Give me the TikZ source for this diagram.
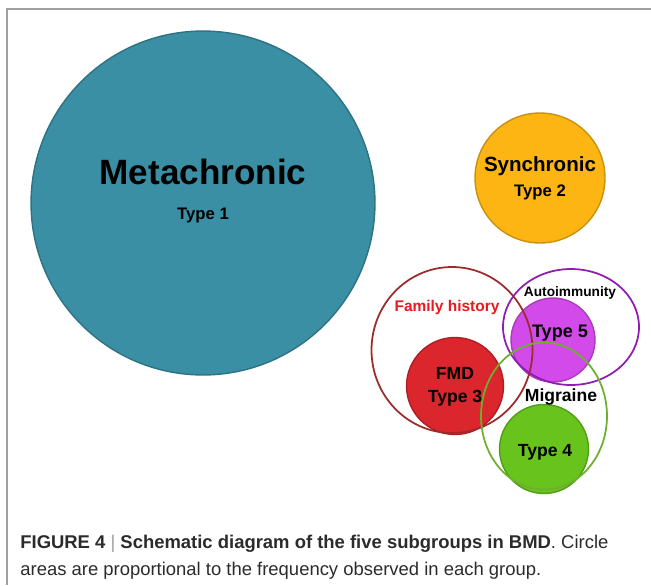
\documentclass[tikz,border=0pt]{standalone}
\usepackage{fontspec}
\setmainfont{Liberation Sans}
\usetikzlibrary{shapes.geometric}
\definecolor{metateal}{HTML}{3A8FA4}
\definecolor{syncgold}{HTML}{FDB513}
\definecolor{fmdred}{HTML}{DA262C}
\definecolor{famred}{HTML}{9C2B2B}
\definecolor{autopurple}{HTML}{8E1DB0}
\definecolor{typefive}{HTML}{D24BEA}
\definecolor{migreen}{HTML}{6DB030}
\definecolor{typefour}{HTML}{68C41C}
\definecolor{framegray}{HTML}{A0A0A0}
\definecolor{captext}{HTML}{2B2B2B}
\begin{document}
\begin{tikzpicture}[x=0.02cm,y=-0.02cm]
\tikzset{group circle/.style={draw=#1!80!black,circle,fill=#1,inner sep=0pt,thick},
         group ring/.style={draw=#1,ellipse,inner sep=0pt,line width=1pt},
         lab/.style={font=\bfseries\fontsize{#1}{#1}\selectfont,inner sep=0pt}}
\useasboundingbox (0,0) rectangle (651,585);
\draw[framegray,line width=0.8pt] (7,585) -- (7,9) -- (651,9);
% big groups
\node [group circle=metateal,minimum size=6.88cm] (meta) at (203,203) {};
\node [group circle=syncgold,minimum size=2.6cm] (sync) at (540,178) {};
\node [lab=20pt] (metat) at (203,172) {Metachronic};
\node [lab=9.5pt] (metan) at (203,215) {Type 1};
\node [lab=11.7pt] (synct) at (540,166) {Synchronic};
\node [lab=9.5pt] (syncn) at (540,192) {Type 2};
% small groups
\node [group circle=fmdred,minimum size=1.94cm] (fmd) at (455,386) {};
\node [group circle=typefive,minimum size=1.68cm] (five) at (553,340) {};
\node [group circle=typefour,minimum size=1.78cm] (four) at (544,449) {};
\node [group ring=famred,minimum width=3.22cm,minimum height=3.32cm] (fam) at (452,350) {};
\node [group ring=autopurple,minimum width=2.72cm,minimum height=2.32cm] (auto) at (571,327) {};
\node [group ring=migreen,minimum width=2.52cm,minimum height=2.94cm] (mig) at (544,416) {};
\node [lab=8.8pt,text={rgb,255:red,232;green,25;blue,31}] (famt) at (447,307) {Family history};
\node [lab=7.8pt] (autot) at (570,293) {Autoimmunity};
\node [lab=10.3pt] (fivet) at (560,333) {Type 5};
\node [lab=10pt,align=center] (fmdt) at (455,387) {FMD\\[3pt]Type 3};
\node [lab=10pt] (migt) at (561,397) {Migraine};
\node [lab=10pt] (fourt) at (545,452) {Type 4};
% caption
\node [anchor=base west,align=left,inner sep=0pt,font=\fontsize{10.5pt}{15.3pt}\selectfont,text=captext] (cap) at (20,575)
  {\textbf{FIGURE 4} {\color{framegray}|} \textbf{Schematic diagram of the five subgroups in BMD}. Circle\\
   areas are proportional to the frequency observed in each group.};
\end{tikzpicture}
\end{document}
